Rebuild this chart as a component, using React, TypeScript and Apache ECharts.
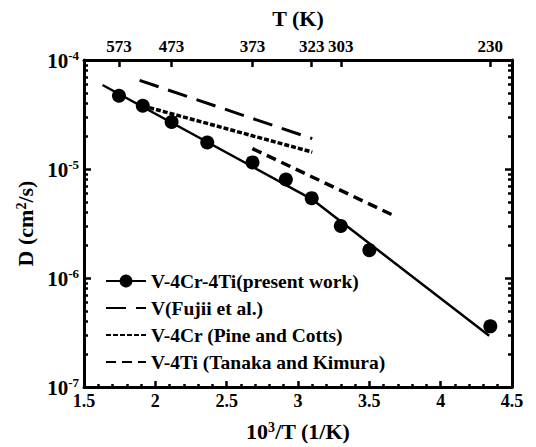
import React, { useEffect, useRef } from "react";
import * as echarts from "echarts";

// ---- data ----
const topTempsK = [573, 473, 373, 323, 303, 230];
const presentX = [1.745, 1.912, 2.114, 2.364, 2.681, 2.915, 3.096, 3.3, 3.5, 4.348];
const presentD = [4.7e-5, 3.8e-5, 2.7e-5, 1.75e-5, 1.15e-5, 8.0e-6, 5.4e-6, 3.0e-6, 1.8e-6, 3.6e-7];
const fitX = [1.63, 3.096, 4.34];
const fitD = [5.9e-5, 5.3e-6, 2.95e-7];
const fujiiX = [1.89, 3.1];
const fujiiD = [6.5e-5, 1.9e-5];
const pineX = [1.91, 3.1];
const pineD = [3.8e-5, 1.43e-5];
const tanakaX = [2.68, 3.66];
const tanakaD = [1.54e-5, 3.8e-6];
const seriesNames = [
  "V-4Cr-4Ti(present work)",
  "V(Fujii et al.)",
  "V-4Cr (Pine and Cotts)",
  "V-4Ti (Tanaka and Kimura)",
];
const yDecades = [1e-7, 1e-6, 1e-5, 1e-4];
const minorMultipliers = [2, 3, 4, 5, 6, 7, 8, 9];

const F = "Liberation Serif";

const pairs = (xs: number[], ys: number[]) => xs.map((x, i) => [x, ys[i]]);

export default function App() {
  const ref = useRef<HTMLDivElement>(null);
  useEffect(() => {
    document.body.style.margin = "0";
    const chart = echarts.init(ref.current!, null, { renderer: "svg" });
    const topX = topTempsK.map((t) => 1000 / t);
    const yMinor: number[] = [];
    yDecades.slice(0, 3).forEach((d) => minorMultipliers.forEach((m) => yMinor.push(d * m)));
    const black = "#000";
    const bold = { fontFamily: F, fontWeight: "bold" as const, color: black };
    const sup = (size: number) => ({
      fontFamily: F,
      fontWeight: "bold" as const,
      fontSize: size,
      color: black,
      verticalAlign: "top" as const,
      lineHeight: size,
    });

    const logAxisBase = {
      type: "log" as const,
      logBase: 10,
      min: 1e-7,
      max: 1e-4,
      splitLine: { show: false },
    };

    chart.setOption({
      animation: false,
      textStyle: { fontFamily: F },
      grid: { left: 84, top: 60, width: 428, height: 334, containLabel: false },
      legend: {
        orient: "vertical",
        left: 100,
        top: 266,
        itemWidth: 40,
        itemHeight: 16,
        itemGap: 7,
        data: [
          { name: seriesNames[0] },
          { name: seriesNames[1], itemStyle: { opacity: 0 } },
          { name: seriesNames[2], itemStyle: { opacity: 0 } },
          { name: seriesNames[3], itemStyle: { opacity: 0 } },
        ],
        textStyle: { ...bold, fontSize: 19.5, lineHeight: 20 },
      },
      xAxis: [
        {
          type: "value",
          position: "bottom",
          min: 1.5,
          max: 4.5,
          interval: 0.5,
          axisLine: { lineStyle: { color: black, width: 3 } },
          axisTick: { inside: true, length: 6, lineStyle: { color: black, width: 2.5 } },
          minorTick: { show: true, splitNumber: 5, length: 3, lineStyle: { color: black, width: 2.5 } },
          splitLine: { show: false },
          axisLabel: { ...bold, fontSize: 18, margin: 5, formatter: (v: number) => String(v) },
          name: "10{s|3}/T (1/K)",
          nameLocation: "middle",
          nameGap: 33,
          nameTextStyle: { ...bold, fontSize: 22, rich: { s: sup(14) } },
        },
        {
          type: "value",
          position: "top",
          min: 1.5,
          max: 4.5,
          axisLine: { lineStyle: { color: black, width: 3 } },
          axisTick: { inside: true, length: 7, customValues: topX, lineStyle: { color: black, width: 2.5 } },
          splitLine: { show: false },
          axisLabel: {
            ...bold,
            fontSize: 17,
            margin: 5,
            customValues: topX,
            formatter: (v: number) => String(Math.round(1000 / v)),
          },
          name: "T (K)",
          nameLocation: "middle",
          nameGap: 31,
          nameTextStyle: { ...bold, fontSize: 22 },
        },
      ],
      yAxis: [
        {
          ...logAxisBase,
          position: "left",
          axisLine: { show: true, lineStyle: { color: black, width: 3 } },
          axisTick: { show: true, inside: true, length: 7, lineStyle: { color: black, width: 2.5 } },
          axisLabel: {
            margin: 5,
            formatter: (v: number) => `{b|10}{s|${Math.round(Math.log10(v))}}`,
            rich: {
              b: { ...bold, fontSize: 21, lineHeight: 23, verticalAlign: "bottom" },
              s: sup(13),
            },
          },
          name: "D (cm{s|2}/s)",
          nameLocation: "middle",
          nameRotate: 90,
          nameGap: 43,
          nameTextStyle: { ...bold, fontSize: 22, rich: { s: sup(14) } },
        },
        {
          ...logAxisBase,
          position: "left",
          axisLine: { show: false },
          axisTick: { show: true, inside: true, length: 4, customValues: yMinor, lineStyle: { color: black, width: 2.5 } },
          axisLabel: { show: false },
        },
        {
          ...logAxisBase,
          position: "right",
          axisLine: { show: true, lineStyle: { color: black, width: 3 } },
          axisTick: { show: true, inside: true, length: 7, lineStyle: { color: black, width: 2.5 } },
          axisLabel: { show: false },
        },
        {
          ...logAxisBase,
          position: "right",
          axisLine: { show: false },
          axisTick: { show: true, inside: true, length: 4, customValues: yMinor, lineStyle: { color: black, width: 2.5 } },
          axisLabel: { show: false },
        },
      ],
      series: [
        {
          name: seriesNames[0],
          type: "line",
          data: pairs(fitX, fitD),
          symbol: "circle",
          symbolSize: 14,
          showSymbol: false,
          lineStyle: { color: black, width: 2.5 },
          itemStyle: { color: black, opacity: 1 },
        },
        {
          name: seriesNames[1],
          type: "line",
          data: pairs(fujiiX, fujiiD),
          symbol: "none",
          lineStyle: { color: black, width: 3, type: [20, 10] },
          itemStyle: { color: black },
        },
        {
          name: seriesNames[2],
          type: "line",
          data: pairs(pineX, pineD),
          symbol: "none",
          lineStyle: { color: black, width: 3.5, type: [5, 2] },
          itemStyle: { color: black },
        },
        {
          name: seriesNames[3],
          type: "line",
          data: pairs(tanakaX, tanakaD),
          symbol: "none",
          lineStyle: { color: black, width: 3.5, type: [10, 6] },
          itemStyle: { color: black },
        },
        {
          name: "points",
          type: "scatter",
          data: pairs(presentX, presentD),
          symbol: "circle",
          symbolSize: 14,
          itemStyle: { color: black, opacity: 1 },
          z: 5,
        },
      ],
    });
    return () => chart.dispose();
  }, []);
  return <div ref={ref} style={{ width: 536, height: 447 }} />;
}
